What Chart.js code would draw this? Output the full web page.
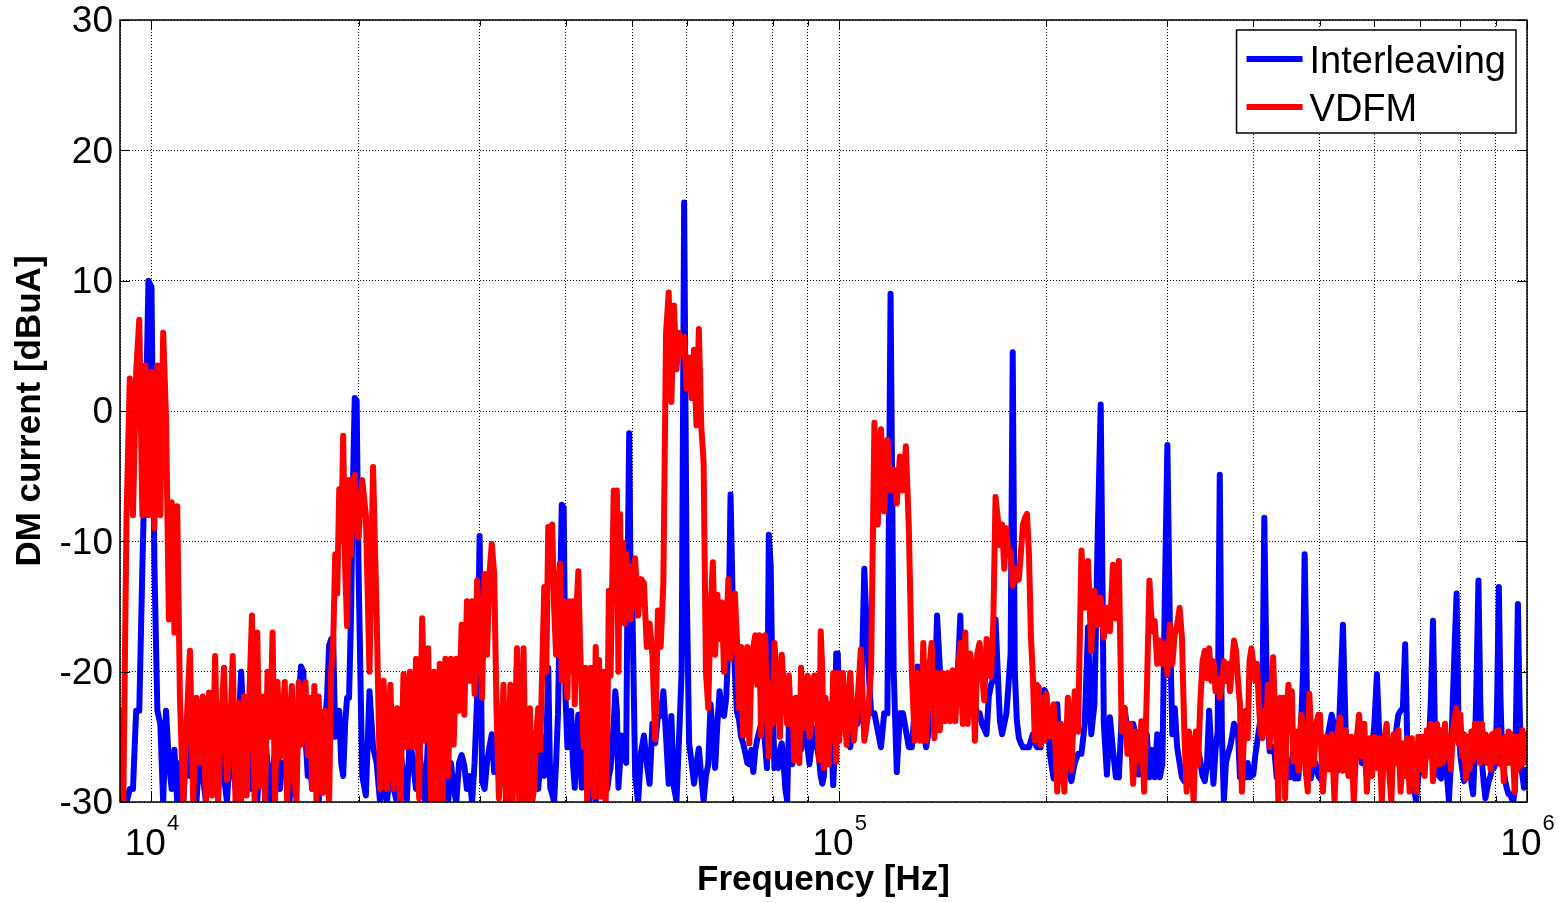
<!DOCTYPE html>
<html lang="en">
<head>
  <meta charset="UTF-8">
  <title>DM current spectrum</title>
  <style>
    body {
      margin: 0;
      background: #ffffff;
    }
    canvas {
      display: block;
    }
  </style>
</head>
<body>
  <canvas id="spectrum" width="1560" height="903"></canvas>
  <script src="https://cdn.jsdelivr.net/npm/chart.js"></script>
  <script>
    // Frequency bins in kHz, split by band
    const freqA1 = [9.0, 9.1, 9.2, 9.3, 9.4, 9.5, 9.6, 9.7, 9.8, 9.9,
      10.0, 10.1, 10.2, 10.3, 10.4, 10.5, 10.6, 10.7, 10.8, 10.9, 11.0];
    const freqA2 = [11.125, 11.25, 11.375, 11.5, 11.625, 11.75, 11.875, 12.0, 12.125, 12.25,
      12.375, 12.5, 12.625, 12.75, 12.875, 13.0, 13.125, 13.25, 13.375, 13.5,
      13.625, 13.75, 13.875, 14.0, 14.125, 14.25, 14.375, 14.5, 14.625, 14.75,
      14.875, 15.0, 15.125, 15.25, 15.375, 15.5, 15.625, 15.75, 15.875, 16.0,
      16.125, 16.25, 16.375, 16.5, 16.625, 16.75, 16.875, 17.0, 17.125, 17.25,
      17.375, 17.5, 17.625, 17.75, 17.875, 18.0, 18.125, 18.25, 18.375, 18.5,
      18.625, 18.75, 18.875, 19.0, 19.125, 19.25, 19.375, 19.5, 19.625, 19.75,
      19.875];
    const freqB = [20, 20.25, 20.5, 20.75, 21, 21.25, 21.5, 21.75, 22, 22.25,
      22.5, 22.75, 23, 23.25, 23.5, 23.75, 24, 24.25, 24.5, 24.75,
      25, 25.25, 25.5, 25.75, 26, 26.25, 26.5, 26.75, 27, 27.25,
      27.5, 27.75, 28, 28.25, 28.5, 28.75, 29, 29.25, 29.5, 29.75,
      30, 30.25, 30.5, 30.75, 31, 31.25, 31.5, 31.75, 32, 32.25,
      32.5, 32.75, 33, 33.25, 33.5, 33.75, 34, 34.25, 34.5, 34.75,
      35, 35.25, 35.5, 35.75, 36, 36.25, 36.5, 36.75, 37, 37.25,
      37.5, 37.75, 38, 38.25, 38.5, 38.75, 39, 39.25, 39.5, 39.75,
      40, 40.25, 40.5, 40.75, 41, 41.25, 41.5, 41.75, 42, 42.25,
      42.5, 42.75, 43, 43.25, 43.5, 43.75, 44, 44.25, 44.5, 44.75,
      45, 45.25, 45.5, 45.75, 46, 46.25, 46.5, 46.75, 47, 47.25,
      47.5, 47.75, 48, 48.25, 48.5, 48.75, 49, 49.25, 49.5, 49.75];
    const freqC = [50, 50.5, 51, 51.5, 52, 52.5, 53, 53.5, 54, 54.5,
      55, 55.5, 56, 56.5, 57, 57.5, 58, 58.5, 59, 59.5,
      60, 60.5, 61, 61.5, 62, 62.5, 63, 63.5, 64, 64.5,
      65, 65.5, 66, 66.5, 67, 67.5, 68, 68.5, 69, 69.5,
      70, 70.5, 71, 71.5, 72, 72.5, 73, 73.5, 74, 74.5,
      75, 75.5, 76, 76.5, 77, 77.5, 78, 78.5, 79, 79.5,
      80, 80.5, 81, 81.5, 82, 82.5, 83, 83.5, 84, 84.5,
      85, 85.5, 86, 86.5, 87, 87.5, 88, 88.5, 89, 89.5,
      90, 90.5, 91, 91.5, 92, 92.5, 93, 93.5, 94, 94.5,
      95, 95.5, 96, 96.5, 97, 97.5, 98, 98.5, 99, 99.5];
    const freqD = [100, 101.25, 102.5, 103.75, 105, 106.25, 107.5, 108.75, 110, 111.25,
      112.5, 113.75, 115, 116.25, 117.5, 118.75, 120, 121.25, 122.5, 123.75,
      125, 126.25, 127.5, 128.75, 130, 131.25, 132.5, 133.75, 135, 136.25,
      137.5, 138.75, 140, 141.25, 142.5, 143.75, 145, 146.25, 147.5, 148.75,
      150, 151.25, 152.5, 153.75, 155, 156.25, 157.5, 158.75, 160, 161.25,
      162.5, 163.75, 165, 166.25, 167.5, 168.75, 170, 171.25, 172.5, 173.75,
      175, 176.25, 177.5, 178.75, 180, 181.25, 182.5, 183.75, 185, 186.25,
      187.5, 188.75, 190, 191.25, 192.5, 193.75, 195, 196.25, 197.5, 198.75];
    const freqE = [200, 202.5, 205, 207.5, 210, 212.5, 215, 217.5, 220, 222.5,
      225, 227.5, 230, 232.5, 235, 237.5, 240, 242.5, 245, 247.5,
      250, 252.5, 255, 257.5, 260, 262.5, 265, 267.5, 270, 272.5,
      275, 277.5, 280, 282.5, 285, 287.5, 290, 292.5, 295, 297.5,
      300, 302.5, 305, 307.5, 310, 312.5, 315, 317.5, 320, 322.5,
      325, 327.5, 330, 332.5, 335, 337.5, 340, 342.5, 345, 347.5,
      350, 352.5, 355, 357.5, 360, 362.5, 365, 367.5, 370, 372.5,
      375, 377.5, 380, 382.5, 385, 387.5, 390, 392.5, 395, 397.5,
      400, 402.5, 405, 407.5, 410, 412.5, 415, 417.5, 420, 422.5,
      425, 427.5, 430, 432.5, 435, 437.5, 440, 442.5, 445, 447.5,
      450, 452.5, 455, 457.5, 460, 462.5, 465, 467.5, 470, 472.5,
      475, 477.5, 480, 482.5, 485, 487.5, 490, 492.5, 495, 497.5];
    const freqF = [500, 505, 510, 515, 520, 525, 530, 535, 540, 545,
      550, 555, 560, 565, 570, 575, 580, 585, 590, 595,
      600, 605, 610, 615, 620, 625, 630, 635, 640, 645,
      650, 655, 660, 665, 670, 675, 680, 685, 690, 695,
      700, 705, 710, 715, 720, 725, 730, 735, 740, 745,
      750, 755, 760, 765, 770, 775, 780, 785, 790, 795,
      800, 805, 810, 815, 820, 825, 830, 835, 840, 845,
      850, 855, 860, 865, 870, 875, 880, 885, 890, 895,
      900, 905, 910, 915, 920, 925, 930, 935, 940, 945,
      950, 955, 960, 965, 970, 975, 980, 985, 990, 995,
      1000];

    // Interleaving, dBuA
    const interleavingA1 = [-25, -30, -30, -29, -29, -23, -23, -12, -2, 10,
      9.5, -12, -23, -24, -30, -23, -27, -29, -26, -30, -27];
    const interleavingA2 = [-30, -25, -28, -27, -30, -26, -28, -30, -27, -25,
      -28, -29, -26, -28, -30, -26, -27, -29, -25, -20,
      -24, -28, -26, -29, -27, -30, -26, -28, -25, -27,
      -30, -28, -26, -25, -29, -27, -28, -26, -30, -27,
      -25, -28, -22, -19.6, -20, -25, -28, -27, -29, -26,
      -28, -30, -27, -26, -24, -22, -18, -17.5, -17.5, -25,
      -24, -23, -27, -28, -24, -22, -22, -16, -6, 1,
      0.8];
    const interleavingB = [-12, -28, -29.5, -21.5, -25.8, -27, -30, -28, -30, -27,
      -29, -30, -26, -28, -30, -25, -27, -29, -26, -28,
      -30, -25, -21, -21, -27, -29, -26, -28, -30, -27,
      -29, -30, -27, -26.4, -27.2, -29, -28, -30, -27, -22,
      -9.6, -28.4, -29, -27, -25.8, -24.8, -27.7, -26, -28, -25,
      -27, -29, -30, -30, -28, -26, -29, -27, -30, -28,
      -26, -29, -27, -30, -28, -26, -29, -27, -25, -28,
      -26, -19.7, -28.9, -29.4, -30, -27, -23.3, -15, -7.2, -7.4,
      -22, -25.8, -24, -23, -27, -28.9, -25, -23.3, -27, -28.9,
      -26, -25.5, -28, -30, -27, -26, -29, -30, -27, -25.5,
      -28, -29, -27, -27.1, -29, -28, -27.4, -26, -24, -21.5,
      -23, -28.9, -27, -24.9, -25.5, -26.5, -27, -12, -1.7, -14.1];
    const interleavingC = [-14.1, -28, -30, -26.2, -24.9, -27, -28.6, -24, -25.5, -23.4,
      -23.4, -21.5, -25, -28.6, -23.4, -28.9, -29.9, -25, -20, 16,
      -13.2, -25.5, -27, -28.6, -27.1, -25.9, -28, -29.9, -28, -27.1,
      -22.5, -25, -27.4, -24, -21.5, -23.1, -23.4, -22, -17.8, -6.4,
      -14.7, -20, -23.1, -23.7, -25, -25.5, -26.2, -27, -27.1, -26,
      -27.7, -26, -25.2, -24.6, -24, -23.4, -25.5, -27.4, -9.5, -11.9,
      -22, -27.4, -27, -27.4, -26, -25.5, -27, -29, -29.9, -24,
      -25.5, -27.1, -26, -25.5, -25, -24, -26, -24.3, -25, -25.2,
      -26, -27.1, -26, -24.3, -25, -25.5, -26, -26.8, -28, -28.6,
      -28, -25.1, -26, -25.1, -24, -26, -28.7, -26, -18.6, -18.6];
    const interleavingD = [-22.7, -23.2, -24, -25.8, -23.2, -24, -23.2, -12.1, -18.6, -23.2,
      -23.2, -24.5, -25.8, -23.2, -23.2, 9, -20, -27.7, -23.2, -23.2,
      -24.5, -25.8, -25.8, -23, -19.6, -23.2, -24.5, -25.8, -24.5, -23.2,
      -23.2, -15.7, -19.6, -23.2, -23.2, -23.2, -23.5, -23.2, -23.2, -20,
      -15.7, -23.2, -23.2, -23.2, -22.5, -21.2, -22.5, -23.2, -23.2, -24,
      -24.4, -24.8, -21.9, -21, -20.6, -16, -20, -23.8, -24.8, -24,
      -23.2, -21, -18.6, 4.5, -20, -23.8, -25.1, -25.5, -25.8, -25.8,
      -25.8, -25.8, -25.3, -24.8, -25.3, -25.8, -25.8, -25.8, -23, -21.4];
    const interleavingE = [-21.7, -26.4, -28.2, -22.5, -28.4, -25.3, -27, -28.4, -27, -26.3,
      -26.3, -24, -16.6, -24.8, -22.5, -10, 0.5, -24, -27.9, -23.5,
      -26, -28.1, -28.1, -23.3, -22.8, -24.6, -26.3, -24, -25, -27.9,
      -26, -25, -24.8, -28.1, -26, -28.1, -24.8, -28.1, -27.1, -14,
      -2.6, -16.4, -24.8, -22.8, -25.8, -27, -28.1, -28.4, -27, -28.1,
      -27, -25.8, -27.1, -26, -26.9, -28, -28.4, -27.1, -23, -26,
      -28.6, -26, -24.6, -4.9, -24.6, -29.9, -27, -26.3, -25.8, -25,
      -24, -24.3, -24.6, -28.1, -27, -28, -28.1, -27, -28.1, -28,
      -27.9, -26.5, -25.5, -24.5, -23.5, -21.5, -8.2, -18, -23.8, -26.1,
      -26, -25.8, -26.5, -28.1, -27, -26.1, -25.5, -24.6, -26, -27,
      -28.1, -28.1, -27.1, -25.8, -28.2, -27.5, -28.2, -26, -23.3, -20,
      -11, -18, -26.6, -27.5, -28.2, -27.5, -27.6, -27, -27.6, -28];
    const interleavingF = [-28.2, -27, -25.8, -24.5, -23.3, -24.3, -27.6, -22, -16.4, -24.8,
      -27.6, -26, -27.1, -25.5, -25.3, -27, -26.6, -28, -27.6, -26.1,
      -24, -20.2, -25, -27.6, -26, -25.8, -27.1, -26, -25, -24.6,
      -23.3, -23, -22.8, -17.9, -25.8, -27, -28.4, -29, -29.9, -28,
      -27.6, -27, -27.1, -26, -25.8, -22, -16.1, -25, -27.1, -28,
      -28.2, -27, -26.9, -28, -29.9, -27, -22.3, -18, -14, -24,
      -26.4, -27.5, -28.4, -28, -27.5, -27.1, -28.5, -29.4, -26, -20,
      -13, -22, -26.9, -28.5, -29.7, -29, -28.4, -28, -27.4, -27.4,
      -27, -22, -13.5, -22, -26.4, -27.5, -28.4, -29, -29.4, -29.4,
      -29.7, -30, -29, -22, -14.8, -22, -27.1, -28, -28.9, -28,
      -27.5];

    // VDFM, dBuA
    const vdfmA1 = [-23, -30, -8, 2.5, -8, 3, 7, -8, 3.5, -8,
      3, -9, 3.5, -8, 6, -0.5, -16, -7, -17, -7.3, -22];
    const vdfmA2 = [-30, -24, -18.4, -30, -22, -27, -21.9, -30, -21.6, -29.5,
      -18.8, -30, -24, -19.7, -28.3, -25.4, -18.8, -30, -22.4, -30,
      -21.9, -29.5, -22, -15.7, -30, -17, -28.8, -21.9, -30, -20,
      -25, -17, -30, -20.8, -26.6, -24, -20.8, -30, -24, -21.1,
      -28, -30, -20.8, -25.6, -22, -20.8, -26.4, -22, -29, -21.1,
      -30, -21.9, -27, -29.3, -23, -27, -30, -20, -17.8, -11,
      -14, -6, -10, -1.9, -12, -16.5, -5.3, -11, -5.3, -4.9,
      -9];
    const vdfmB = [-9.7, -5.3, -8, -20, -4.3, -15.6, -29, -20.7, -29, -21,
      -29, -22.8, -30, -20.2, -25.8, -20, -25.8, -19, -29.7, -15.9,
      -25.3, -18.2, -30, -20, -30, -19.4, -30, -19, -28, -19,
      -25.6, -19, -23, -16.4, -23.3, -14.6, -20.7, -14.6, -21.7, -13,
      -16.9, -22, -12.5, -18.7, -12.5, -10.2, -12.5, -23, -29.7, -25,
      -21, -30, -28, -21, -30, -25, -18.2, -30, -28, -18.2,
      -30, -29, -22.8, -30, -29, -25, -22.8, -26, -19.7, -13.5,
      -20, -8.9, -12, -8.7, -15.1, -18.7, -14, -11.7, -20.7, -14.6,
      -18.7, -22, -14.6, -20, -14.6, -22.5, -15, -12.3, -18.2, -22,
      -25.8, -19.7, -30, -20, -19.7, -27, -29.6, -18.1, -25, -19.1,
      -29.6, -26, -20, -29.9, -25, -13.8, -20.3, -13.7, -6.1, -8.5,
      -6.1, -20, -7.9, -16, -10.1, -16.3, -11, -14, -11.9, -16];
    const vdfmC = [-14.4, -11.3, -15.7, -12.9, -13.2, -18.1, -16.3, -18.7, -25.2, -15.3,
      -18.1, -13.2, 6, 9.1, 0.7, 8.1, 3.2, 6, 4.4, 5.7,
      1.7, 4.1, 1, 4.7, -1.1, 6.3, -1.1, -3.9, -20, -22.8,
      -15.3, -11.6, -18.7, -14.1, -17.5, -14.7, -20, -17.2, -12.9, -19,
      -17.5, -14, -17.5, -22.8, -18.1, -24.9, -20, -18.1, -25.5, -20,
      -18.1, -17.2, -21, -17.2, -24.9, -20, -17.2, -22, -26.5, -20.9,
      -24, -17.8, -20, -22.5, -25, -18.7, -21, -21.8, -24, -20.3,
      -24, -22.1, -26.8, -22, -24.6, -27, -19.7, -23, -24.3, -21,
      -20.3, -25, -24.3, -21, -20.3, -20.3, -24, -26.8, -16.9, -20,
      -27.4, -22, -23.8, -27.1, -22.5, -25.3, -20.1, -24, -26.9, -20.1];
    const vdfmD = [-25.3, -20.1, -25.6, -20.1, -25.3, -22.5, -18.3, -25.3, -23.5, -19.9,
      -0.9, -8.7, -1.4, -7.7, -2.2, -6.1, -4.5, -7.1, -3.5, -6.1,
      -2.7, -9, -19.9, -25.3, -20.1, -25.3, -17.8, -25.3, -20.1, -17.8,
      -25.1, -20.1, -24.5, -20.1, -23.8, -20.1, -23.8, -19.9, -23.8, -20.1,
      -17.8, -24, -17, -24, -18.6, -20.1, -25.3, -18.6, -17.8, -20.1,
      -22.2, -17.5, -20.1, -20.4, -16.2, -6.6, -8.2, -10.3, -8.7, -12.1,
      -9, -11, -10.8, -13.4, -12.1, -13, -12.9, -10.8, -8.7, -8.2,
      -7.9, -11, -17.3, -20.4, -25.3, -21, -21.2, -25.6, -22, -25.3];
    const vdfmE = [-21.7, -25, -22.5, -29.2, -24, -29.2, -22, -27.6, -21.5, -24.6,
      -10.7, -15.1, -11.5, -18.4, -13.8, -16.4, -14.3, -17.4, -15.1, -16.9,
      -11.8, -15.9, -11.5, -24.6, -22.8, -26.3, -24, -28.6, -24.6, -26.9,
      -23.8, -29.2, -21.7, -13, -16.9, -16.1, -19.4, -17.6, -19.4, -17.9,
      -20.2, -16.4, -19.4, -17.1, -16.4, -15.1, -17.4, -24.6, -29.2, -24.6,
      -26.1, -30, -24.6, -27.1, -22.3, -19.2, -18.4, -20.5, -18.2, -20.7,
      -19.2, -21.5, -20.5, -22, -21, -19.2, -20.7, -19.4, -21.5, -19.4,
      -17.6, -18.4, -20.7, -22.5, -29.2, -25.1, -23, -25.1, -19.2, -18.2,
      -19.4, -20.7, -19.4, -22.5, -24.6, -25.1, -23, -24.6, -21, -25.8,
      -22, -18.9, -23.3, -25.8, -29.9, -22, -25, -22, -29.7, -23,
      -21, -24.6, -21.5, -26.9, -25.6, -24.6, -27.6, -25, -23.3, -25,
      -26.6, -28, -29.2, -21.7, -24, -26, -27.1, -25, -23.8, -23.3];
    const vdfmF = [-23.3, -29.2, -25, -27.5, -24.8, -29.9, -24.8, -23.5, -27.6, -24.5,
      -28, -25, -30, -25.3, -23.3, -26.5, -24, -29.2, -25.1, -28,
      -25, -27.4, -25.1, -29.9, -25.3, -24, -27.5, -30, -24.8, -27,
      -24.5, -29.2, -25.5, -28, -25.1, -29.2, -25.1, -28, -29.2, -25,
      -27.5, -25, -28, -24.5, -26.5, -24, -28.4, -25, -24, -27.1,
      -24.5, -27, -24, -26.6, -25, -27.5, -24.6, -23.5, -22.8, -25.5,
      -23.3, -26.5, -24.8, -28.2, -25, -27.5, -24.6, -26.8, -24, -26.5,
      -24, -27, -24, -26.5, -24.8, -27, -25, -27.5, -24.8, -27,
      -24.6, -26.5, -24.5, -27.1, -25.3, -28.4, -25, -27, -24.6, -27,
      -24.8, -27, -29.2, -25, -27.5, -25, -27.1, -24.5, -27, -24.8,
      -26.5];

    // Axis ticks
    const xGridHz = [9000, 10000, 20000, 30000, 40000, 50000, 60000, 70000, 80000, 90000,
      100000, 200000, 300000, 400000, 500000, 600000, 700000, 800000, 900000, 1000000];
    const xDecades = [10000, 100000, 1000000];
    const yTicks = [-30, -20, -10, 0, 10, 20, 30];

    const freqHz = [].concat(freqA1, freqA2, freqB, freqC, freqD, freqE, freqF).map(f => f * 1000);
    const interleavingDb = [].concat(interleavingA1, interleavingA2, interleavingB, interleavingC,
      interleavingD, interleavingE, interleavingF);
    const vdfmDb = [].concat(vdfmA1, vdfmA2, vdfmB, vdfmC, vdfmD, vdfmE, vdfmF);

    const toPoints = (db) => freqHz.map((f, i) => ({ x: f, y: db[i] }));

    const FONT = "'Liberation Sans', Arial, Helvetica, sans-serif";

    // box, inward ticks, decade labels and the legend
    const framePlugin = {
      id: 'frame',
      afterDraw(chart) {
        const { ctx, chartArea: a, scales: { x, y } } = chart;
        ctx.save();

        ctx.strokeStyle = '#000';
        ctx.lineWidth = 1;
        ctx.beginPath();
        xGridHz.forEach(v => {
          const px = Math.round(x.getPixelForValue(v)) + 0.5;
          const len = xDecades.includes(v) ? 10 : 6;
          ctx.moveTo(px, a.bottom); ctx.lineTo(px, a.bottom - len);
          ctx.moveTo(px, a.top); ctx.lineTo(px, a.top + len);
        });
        yTicks.forEach(v => {
          const py = Math.round(y.getPixelForValue(v)) + 0.5;
          ctx.moveTo(a.left, py); ctx.lineTo(a.left + 10, py);
          ctx.moveTo(a.right, py); ctx.lineTo(a.right - 10, py);
        });
        ctx.stroke();

        ctx.lineWidth = 1.5;
        ctx.strokeRect(a.left, a.top, a.right - a.left, a.bottom - a.top);

        // 10^n labels
        ctx.fillStyle = '#000';
        ctx.textBaseline = 'alphabetic';
        ctx.textAlign = 'left';
        xDecades.forEach(v => {
          const px = x.getPixelForValue(v);
          const exp = String(Math.round(Math.log10(v)));
          ctx.font = '37px ' + FONT;
          const wBase = ctx.measureText('10').width;
          ctx.font = '22px ' + FONT;
          const wExp = ctx.measureText(exp).width;
          const x0 = px - (wBase + wExp) / 2;
          ctx.font = '37px ' + FONT;
          ctx.fillText('10', x0, a.bottom + 53);
          ctx.font = '22px ' + FONT;
          ctx.fillText(exp, x0 + wBase + 1, a.bottom + 28);
        });

        // legend
        ctx.font = '38px ' + FONT;
        const sets = chart.data.datasets;
        const textW = Math.max(...sets.map(d => ctx.measureText(d.label).width));
        const boxW = 73 + textW + 10;
        const boxH = 103;
        const bx = a.right - 11 - boxW;
        const by = a.top + 10;
        ctx.fillStyle = '#fff';
        ctx.fillRect(bx, by, boxW, boxH);
        ctx.strokeStyle = '#000';
        ctx.lineWidth = 1.5;
        ctx.strokeRect(bx, by, boxW, boxH);
        sets.forEach((d, i) => {
          const cy = by + 29 + i * 48;
          ctx.strokeStyle = d.borderColor;
          ctx.lineWidth = 6;
          ctx.beginPath();
          ctx.moveTo(bx + 10, cy);
          ctx.lineTo(bx + 66, cy);
          ctx.stroke();
          ctx.fillStyle = '#000';
          ctx.fillText(d.label, bx + 73, cy + 13.5);
        });

        ctx.restore();
      }
    };

    const ctx = document.getElementById('spectrum').getContext('2d');

    new Chart(ctx, {
      type: 'line',
      data: {
        datasets: [
          {
            label: 'Interleaving',
            data: toPoints(interleavingDb),
            borderColor: '#0000ff',
            borderWidth: 6,
            pointRadius: 0,
            borderJoinStyle: 'round',
            borderCapStyle: 'round',
            tension: 0,
            clip: 0,
            order: 1,
          },
          {
            label: 'VDFM',
            data: toPoints(vdfmDb),
            borderColor: '#ff0000',
            borderWidth: 6,
            pointRadius: 0,
            borderJoinStyle: 'round',
            borderCapStyle: 'round',
            tension: 0,
            clip: 0,
            order: 0,
          },
        ],
      },
      options: {
        responsive: false,
        animation: false,
        events: [],
        layout: { padding: { top: 20, right: 33, left: 0, bottom: 0 } },
        plugins: {
          legend: { display: false },
          tooltip: { enabled: false },
        },
        scales: {
          x: {
            type: 'logarithmic',
            min: 9000,
            max: 1000000,
            afterBuildTicks: (s) => { s.ticks = xGridHz.map(v => ({ value: v })); },
            afterFit: (s) => { s.height = 101; },
            ticks: { callback: () => '', autoSkip: false, maxRotation: 0 },
            grid: { color: '#000', lineWidth: 1, drawTicks: false },
            border: { display: false, dash: [1, 2] },
            title: {
              display: true,
              text: 'Frequency [Hz]',
              color: '#000',
              font: { family: FONT, size: 35, weight: 'bold' },
              padding: { top: 0, bottom: 2 },
            },
          },
          y: {
            min: -30,
            max: 30,
            afterBuildTicks: (s) => { s.ticks = yTicks.map(v => ({ value: v })); },
            afterFit: (s) => { s.width = 120; },
            ticks: {
              color: '#000',
              padding: 7,
              labelOffset: 2,
              font: { family: FONT, size: 37, lineHeight: 0.65 },
            },
            grid: { color: '#000', lineWidth: 1, drawTicks: false },
            border: { display: false, dash: [1, 2] },
            title: {
              display: true,
              text: 'DM current [dBuA]',
              color: '#000',
              font: { family: FONT, size: 35, weight: 'bold' },
              padding: { top: 9, bottom: 0 },
            },
          },
        },
      },
      plugins: [framePlugin],
    });
  </script>
</body>
</html>
